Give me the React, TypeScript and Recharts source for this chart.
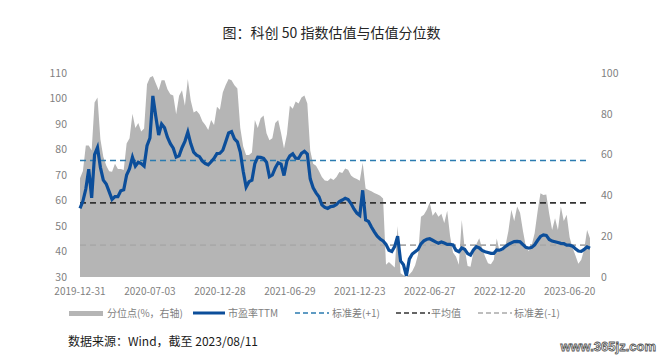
import React from "react";
import {
  ComposedChart,
  Area,
  Line,
  XAxis,
  YAxis,
  ReferenceLine,
} from "recharts";

// 市盈率TTM (left axis), sampled evenly from 2019-12-31 to 2023-08-11
const peTTM = [
  56.9, 59.8, 64.5, 72.3, 61, 78, 80.8, 73, 68, 66.5,
  63.5, 60.4, 61.5, 61.5, 63.8, 64.2, 70, 72.5, 77, 73.5,
  75, 74.5, 73.5, 81.5, 84.5, 101, 93, 85.7, 90, 88.5,
  84.8, 82.3, 80.5, 77, 77.5, 80.7, 83.2, 86.8, 82.3, 79,
  77.8, 77.2, 75.4, 74.5, 74, 75.2, 76.5, 78.4, 78.5, 79.7,
  83, 86.5, 87, 84.2, 83, 79, 71.5, 65.3, 67.4, 68,
  74.5, 77, 76.9, 76.5, 75, 69.3, 70, 72.8, 74.8, 74.3,
  69.8, 75.5, 77.5, 78.3, 76.6, 76.5, 78.5, 79.3, 78.2, 68.5,
  65, 63, 61.5, 58.3, 57.3, 56.9, 57.6, 57.8, 58.4, 59.6,
  60.2, 60.9, 60.4, 58.8, 56.7, 55, 54.1, 64, 52.4, 51.8,
  49.6, 47.7, 46, 44.9, 44.1, 42.8, 40.5, 40, 42, 46,
  36.3, 34.8, 30.5, 37, 39, 39.9, 40.8, 43, 44.2, 44.8,
  45, 44.4, 43.8, 43.2, 43.7, 43.3, 42.8, 42.8, 42.6, 40.5,
  39.9, 41.4, 40.9, 39.2, 38.6, 40.6, 41.9, 41.4, 40.4, 39.9,
  39.6, 39.3, 39.3, 40.6, 40.5, 41, 42, 42.8, 43.4, 43.9,
  44, 43.8, 42.7, 41.6, 41.3, 41.6, 42.6, 44.3, 45.9, 46.5,
  46.3, 44.7, 44.1, 43.8, 43.5, 43.2, 43.1, 42.5, 42.5, 42.1,
  41.1, 40.2, 40.1, 40.8, 41.8, 41.3,
];

// 分位点(%，右轴)
const percentile = [
  48.4, 52, 64.5, 64.5, 62, 85.5, 88, 67.5, 59, 54.7,
  51.8, 51.6, 55.5, 53, 53, 52.5, 65.5, 68, 80, 73,
  75.5, 71.3, 72.8, 94.5, 97.8, 98.5, 95, 91.5, 96.5, 96.5,
  92, 89.6, 89, 79.8, 88.8, 91.5, 84, 97, 86.5, 80.6,
  81.5, 79.8, 76.4, 74.5, 72, 77, 74.5, 83.5, 82, 90.5,
  94.1, 97, 96.5, 94, 92.4, 73, 64, 59.8, 59.8, 61,
  77, 73, 77.8, 79.2, 70.5, 67, 68, 75.5, 77, 70.5,
  63, 70, 84, 82.5, 86, 85, 88, 89, 85, 62,
  55.5, 54.5, 52, 49, 47.3, 47, 48.4, 47.5, 49, 51.5,
  51, 53.2, 52.6, 49.8, 48.7, 48, 47.2, 56, 43.4, 42.7,
  42, 41.2, 40.6, 39.8, 38.5, 6, 7.4, 6, 4.6, 25,
  1.8, 0.8, 0, 1.2, 2.8, 5.8, 11, 29.5, 30.5, 33,
  36.5, 30, 32, 29.5, 31, 26.5, 32.5, 20, 12, 10,
  6, 28, 14, 5.4, 5, 12.2, 16, 19, 14, 10,
  6.8, 6.3, 8.5, 18.9, 12.4, 13, 15.5, 22.5, 33, 27.5,
  34.5, 31.5, 22.5, 14.8, 12.6, 15.7, 21.5, 32, 41, 40.2,
  40.5, 31, 23, 28.8, 23, 34.5, 27.5, 30.5, 19.5, 14.5,
  10.5, 6.5, 8.5, 13.5, 23, 19,
];

const xTickLabels = [
  "2019-12-31",
  "2020-07-03",
  "2020-12-28",
  "2021-06-29",
  "2021-12-23",
  "2022-06-27",
  "2022-12-20",
  "2023-06-20",
];
const xTickIndex = [0, 24, 48, 72, 96, 120, 144, 168];

const leftTicks = [30, 40, 50, 60, 70, 80, 90, 100, 110];
const rightTicks = [0, 20, 40, 60, 80, 100];

const upperPE = 75.7; // 标准差(+1)
const meanPE = 59.1; // 平均值
const lowerPE = 42.5; // 标准差(-1)

const data = peTTM.map((v, i) => ({ i, pe: v, pct: percentile[i] }));

const FONT = '"Noto Sans CJK SC", "Microsoft YaHei", sans-serif';
const TICK_COLOR = "#7f7f7f";

const legendItems = [
  { label: "分位点(%，右轴)", kind: "area", color: "#b5b5b5", sx: 69, tx: 107 },
  { label: "市盈率TTM", kind: "line", color: "#0c4e9a", sx: 193, tx: 228 },
  { label: "标准差(+1)", kind: "dash", color: "#2b7bb0", sx: 295, tx: 332 },
  { label: "平均值", kind: "dash", color: "#333333", sx: 396, tx: 431 },
  { label: "标准差(-1)", kind: "dash", color: "#a9a9a9", sx: 478, tx: 514 },
];

export default function App() {
  return (
    <div
      style={{
        position: "absolute",
        left: 0,
        top: 0,
        width: 663,
        height: 360,
        background: "#ffffff",
        fontFamily: FONT,
        overflow: "hidden",
      }}
    >
      <div
        style={{
          position: "absolute",
          left: 0,
          top: 22,
          width: 663,
          textAlign: "center",
          fontSize: 14,
          color: "#262626",
          lineHeight: "20px",
        }}
      >
        图：科创 50 指数估值与估值分位数
      </div>

      <div style={{ position: "absolute", left: 0, top: 0 }}>
        <ComposedChart
          width={663}
          height={360}
          data={data}
          margin={{ top: 73, right: 33, bottom: 53, left: 30 }}
        >
          <XAxis
            dataKey="i"
            type="number"
            domain={[0, 175]}
            ticks={xTickIndex}
            tickFormatter={(v: number) => xTickLabels[xTickIndex.indexOf(v)] ?? ""}
            axisLine={false}
            tickLine={false}
            tickSize={0}
            tickMargin={11}
            height={30}
            interval={0}
            tick={{ fontSize: 10, fill: TICK_COLOR, fontFamily: FONT }}
          />
          <YAxis
            yAxisId="left"
            orientation="left"
            domain={[30, 110]}
            ticks={leftTicks}
            axisLine={false}
            tickLine={false}
            tickSize={0}
            tickMargin={13}
            width={50}
            interval={0}
            tick={{ fontSize: 10.5, fill: TICK_COLOR, fontFamily: FONT }}
          />
          <YAxis
            yAxisId="right"
            orientation="right"
            domain={[0, 100]}
            ticks={rightTicks}
            axisLine={false}
            tickLine={false}
            tickSize={0}
            tickMargin={11}
            width={40}
            interval={0}
            tick={{ fontSize: 10.5, fill: TICK_COLOR, fontFamily: FONT }}
          />
          <Area
            yAxisId="right"
            dataKey="pct"
            type="linear"
            stroke="none"
            fill="#b5b5b5"
            fillOpacity={1}
            isAnimationActive={false}
          />
          <ReferenceLine
            yAxisId="left"
            y={upperPE}
            stroke="#2b7bb0"
            strokeWidth={1.6}
            strokeDasharray="6 4"
          />
          <ReferenceLine
            yAxisId="left"
            y={meanPE}
            stroke="#333333"
            strokeWidth={1.8}
            strokeDasharray="6 4"
          />
          <ReferenceLine
            yAxisId="left"
            y={lowerPE}
            stroke="#a9a9a9"
            strokeWidth={1.6}
            strokeDasharray="6 4"
          />
          <Line
            yAxisId="left"
            dataKey="pe"
            type="linear"
            stroke="#0c4e9a"
            strokeWidth={3.2}
            dot={false}
            isAnimationActive={false}
          />
        </ComposedChart>
      </div>

      <svg
        width={663}
        height={30}
        style={{ position: "absolute", left: 0, top: 298 }}
      >
        {legendItems.map((it) => (
          <g key={it.label}>
            {it.kind === "area" && (
              <rect x={it.sx} y={13} width={34} height={5} fill={it.color} />
            )}
            {it.kind === "line" && (
              <line
                x1={it.sx}
                x2={it.sx + 32}
                y1={15}
                y2={15}
                stroke={it.color}
                strokeWidth={3}
              />
            )}
            {it.kind === "dash" && (
              <line
                x1={it.sx}
                x2={it.sx + 34}
                y1={15}
                y2={15}
                stroke={it.color}
                strokeWidth={1.6}
                strokeDasharray="5 3"
              />
            )}
            <text
              x={it.tx}
              y={15}
              dy="0.35em"
              fontSize={10}
              fill={TICK_COLOR}
              fontFamily={FONT}
            >
              {it.label}
            </text>
          </g>
        ))}
      </svg>

      <div
        style={{
          position: "absolute",
          left: 68,
          top: 332,
          fontSize: 12,
          color: "#1a1a1a",
          lineHeight: "18px",
          whiteSpace: "nowrap",
        }}
      >
        数据来源：Wind，截至 2023/08/11
      </div>

      <svg
        width={120}
        height={24}
        style={{ position: "absolute", left: 546, top: 334 }}
      >
        <text
          x={110}
          y={12}
          dy="0.35em"
          textAnchor="end"
          fontSize={13}
          fontWeight={700}
          fontFamily="Arial, sans-serif"
          fill="#ffffff"
          stroke="#555555"
          strokeWidth={0.8}
        >
          www.365jz.com
        </text>
      </svg>
    </div>
  );
}
